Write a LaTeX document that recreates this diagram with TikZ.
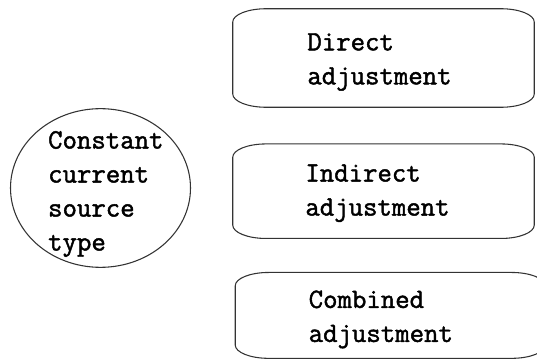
\documentclass[tikz,border=0pt]{standalone}
\usepackage{fontspec}
\setmonofont[FakeBold=1.6]{Latin Modern Mono}
\usetikzlibrary{shapes,positioning}

% corner radii of the soft boxes
\def\crx{25pt}
\def\cry{10pt}
\newcommand{\softbox}[1]{%
  \draw [boxline] ([xshift=\crx]#1.north west) -- ([xshift=-\crx]#1.north east)
    arc [start angle=90,end angle=0,x radius=\crx,y radius=\cry]
    -- ([yshift=\cry]#1.south east)
    arc [start angle=0,end angle=-90,x radius=\crx,y radius=\cry]
    -- ([xshift=\crx]#1.south west)
    arc [start angle=270,end angle=180,x radius=\crx,y radius=\cry]
    -- ([yshift=-\cry]#1.north west)
    arc [start angle=180,end angle=90,x radius=\crx,y radius=\cry] -- cycle;}

\begin{document}
\begin{tikzpicture}[x=0.75pt,y=-0.75pt]
  \tikzstyle{boxline}=[line width=0.8pt,draw=black!80]
  \tikzstyle{txt}=[font=\ttfamily\fontsize{21}{25.5}\selectfont,align=left,text=black]
  \tikzstyle{kind}=[ellipse,boxline,minimum width=135pt,minimum height=119pt,inner sep=0pt]
  \tikzstyle{adj}=[minimum width=225.75pt,minimum height=73.5pt,inner sep=0pt]

  \useasboundingbox (0,0) rectangle (537,360);
  \clip (0,0) rectangle (537,360);

  \node [kind,label={[txt,xshift=4pt,yshift=-4.5pt]center:{Constant\\current\\source\\type}}] (source) at (100.5,188) {};

  \node [adj,label={[txt,xshift=-3pt,yshift=-3pt]center:{Direct\\adjustment}}] (direct) at (383.5,58) {};
  \node [adj,minimum height=70.5pt,label={[txt,xshift=-4.5pt,yshift=-1.5pt]center:{Indirect\\adjustment}}] (indirect) [below=27.5pt of direct] {};
  \node [adj,minimum width=232pt,minimum height=64pt,label={[txt,xshift=-7pt,yshift=-3pt]center:{Combined\\adjustment}}] (combined) [below=25.5pt of indirect,xshift=5pt] {};

  \softbox{direct}
  \softbox{indirect}
  \softbox{combined}
\end{tikzpicture}
\end{document}
